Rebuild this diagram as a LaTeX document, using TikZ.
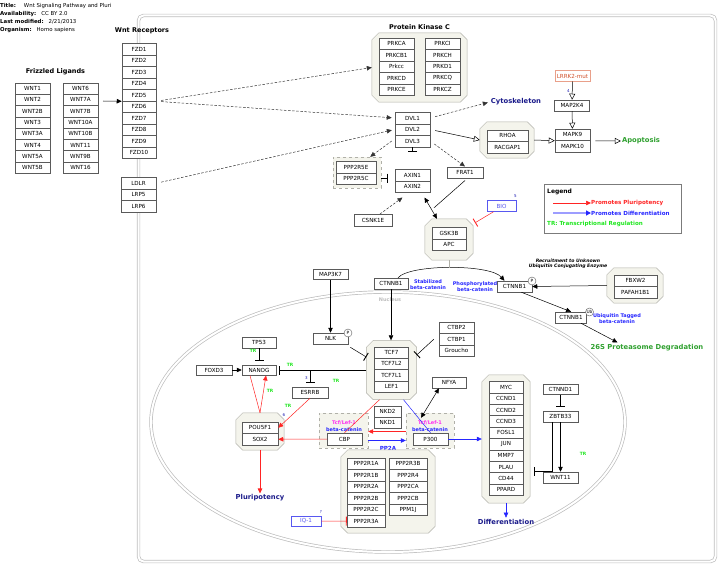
\documentclass[tikz,border=0pt]{standalone}
\usepackage{fontspec}
\setmainfont{DejaVu Sans}
\usepackage{xcolor}
\usepackage{tikz}
\usetikzlibrary{positioning, arrows.meta, calc}
\definecolor{boxline}{HTML}{5A5A5A}
\definecolor{grpfill}{HTML}{F4F4EC}
\definecolor{grpline}{HTML}{B0B0A8}
\definecolor{cellgray}{HTML}{BDBDBD}
\definecolor{navytext}{HTML}{1A1A8A}
\definecolor{okgreen}{HTML}{2FA02F}
\definecolor{trgreen}{HTML}{1EE61E}
\definecolor{plured}{HTML}{FF2424}
\definecolor{difblue}{HTML}{2626FF}
\definecolor{tcfpink}{HTML}{FF2EF0}
\definecolor{mutline}{HTML}{E9A08A}
\definecolor{muttext}{HTML}{D0502A}
\definecolor{drugblue}{HTML}{5858F0}

\tikzset{
  gene/.style={draw=boxline, fill=white, line width=0.5pt, inner sep=0pt,
    minimum width=35pt, minimum height=11.5pt, font=\fontsize{5.6}{6}\selectfont},
  grpline/.style={draw=grpline, fill=grpfill, line width=0.5pt},
  cplx/.style={draw=grpline, dashed, fill=grpfill, line width=0.4pt, inner sep=0pt},
  info/.style={anchor=west, inner sep=0pt, font=\fontsize{5.4}{6}\selectfont},
  head/.style={inner sep=0pt, font=\bfseries\fontsize{6.5}{7}\selectfont},
  outcome/.style={inner sep=1pt, text=navytext, font=\bfseries\fontsize{6.8}{8}\selectfont},
  catlbl/.style={inner sep=0pt, align=center, text=difblue, font=\bfseries\fontsize{5}{5.8}\selectfont},
  legtxt/.style={anchor=west, inner sep=0pt, font=\bfseries\fontsize{5.6}{6.5}\selectfont},
  trlbl/.style={inner sep=0pt, text=trgreen, font=\bfseries\fontsize{4.4}{5}\selectfont},
  refnum/.style={inner sep=0pt, text=difblue!70!black, font=\fontsize{4}{4.5}\selectfont},
  statemark/.style={circle, draw=boxline, fill=white, line width=0.4pt, inner sep=0pt,
    minimum size=8pt, font=\fontsize{4.3}{5}\selectfont},
  act/.style={-{Triangle[length=5pt,width=4.5pt]}, line width=0.5pt},
  bact/.style={{Triangle[length=5pt,width=4.5pt]}-{Triangle[length=5pt,width=4.5pt]}, line width=0.5pt},
  dact/.style={act, draw=black!80, dash pattern=on 2.5pt off 1.6pt},
  conv/.style={-{Triangle[open,length=6pt,width=6pt]}, line width=0.5pt},
  inh/.style={-{Bar[width=9pt,line width=0.9pt]}, line width=0.5pt},
  membrane/.style={draw=cellgray, double=white, double distance=2pt, line width=0.7pt}
}

% octagonal group: name, x, y, width, height
\newcommand{\grpbox}[5]{%
  \node[minimum width=#4pt, minimum height=#5pt, inner sep=0pt] (#1) at (#2,#3) {};
  \draw[grpline] ([xshift=7pt]#1.north west) -- ([xshift=-7pt]#1.north east)
    -- ([yshift=-7pt]#1.north east) -- ([yshift=7pt]#1.south east)
    -- ([xshift=-7pt]#1.south east) -- ([xshift=7pt]#1.south west)
    -- ([yshift=7pt]#1.south west) -- ([yshift=-7pt]#1.north west) -- cycle;}

\begin{document}
\begin{tikzpicture}[x=1pt, y=-1pt]
    \useasboundingbox (0,0) rectangle (727,575);
    \node[info] (ttl) at (0,6) {\textbf{Title:}\hspace{8pt}Wnt Signaling Pathway and Pluri};
    \node[info] (avl) at (0,14) {\textbf{Availability:}\hspace{5pt}CC BY 2.0};
    \node[info] (mdf) at (0,22) {\textbf{Last modified:}\hspace{5pt}2/21/2013};
    \node[info] (org) at (0,30) {\textbf{Organism:}\hspace{5pt}Homo sapiens};

    \draw[membrane, rounded corners=5pt] (138.5,15.5) rectangle (715.5,561.5);
    \draw[membrane] (388,422) ellipse [x radius=237pt, y radius=130pt];
    \node[inner sep=0pt, text=cellgray, font=\bfseries\fontsize{5}{6}\selectfont] (nuclbl) at (390,299.5) {Nucleus};

    \node[head] (fzlbl) at (55.5,72) {Frizzled Ligands};
    \foreach \g [count=\i] in {WNT1,WNT2,WNT2B,WNT3,WNT3A,WNT4,WNT5A,WNT5B}
        \node[gene, minimum height=11.3pt] (wnta\i) at (32.5,{77.2+11.3*\i}) {\g};
    \foreach \g [count=\i] in {WNT6,WNT7A,WNT7B,WNT10A,WNT10B,WNT11,WNT9B,WNT16}
        \node[gene, minimum height=11.3pt] (wntb\i) at (80.5,{77.2+11.3*\i}) {\g};

    \node[head] (rclbl) at (142,31) {Wnt Receptors};
    \foreach \i in {1,...,10}
        \node[gene, minimum width=34pt] (fzd\i) at (139,{37.75+11.5*\i}) {FZD\i};
    \foreach \g/\n [count=\i] in {LDLR/ldlr,LRP5/lrp5,LRP6/lrp6}
        \node[gene] (\n) at (138.5,{171.75+11.5*\i}) {\g};
    \coordinate (ligin) at (103,101);
    \draw[act] (ligin) -- (fzd5.south west);

    \grpbox{pkc}{419.5}{67.5}{95}{69}
    \node[head] (pkclbl) at (419.5,27) {Protein Kinase C};
    \foreach \g [count=\i] in {PRKCA,PRKCB1,Prkcc,PRKCD,PRKCE}
        \node[gene] (pkca\i) at (396.5,{32.25+11.5*\i}) {\g};
    \foreach \g [count=\i] in {PRKCI,PRKCH,PRKD1,PRKCQ,PRKCZ}
        \node[gene] (pkcb\i) at (442.5,{32.25+11.5*\i}) {\g};

    \foreach \i in {1,2,3}
        \node[gene] (dvl\i) at (412.5,{106.5+11.5*\i}) {DVL\i};
    \foreach \i in {1,2}
        \node[gene] (axin\i) at (412.5,{163.5+11.5*\i}) {AXIN\i};

    \draw[dact, shorten <=5pt] (fzd5.south east) -- (pkc.west);
    \draw[dact, shorten <=5pt, shorten >=3pt] (fzd5.south east) -- (dvl1.west);
    \draw[dact, shorten <=5pt, shorten >=3pt] (ldlr.east) -- (dvl2.west);

    \node[outcome] (cyto) at (516,102) {Cytoskeleton};
    \draw[dact, shorten <=5pt, shorten >=2pt] (dvl1.east) -- (cyto.west);

    \grpbox{rho}{507}{140}{54}{36}
    \node[gene, minimum width=41pt] (rhoa) at (507.5,135.75) {RHOA};
    \node[gene, minimum width=41pt] (racgap1) at (507.5,147.25) {RACGAP1};
    \draw[conv, shorten <=5pt] (dvl2.east) -- (rho.west);

    \node[gene] (mapk9) at (572.5,134.75) {MAPK9};
    \node[gene] (mapk10) at (572.5,146.25) {MAPK10};
    \node[gene, minimum height=11pt] (map2k4) at (572,105.5) {MAP2K4};
    \node[gene, draw=mutline, text=muttext, minimum height=10.5pt] (lrrk2) at (572.5,76) {LRRK2-mut};
    \node[refnum] (ref4) at (568.5,91) {4};
    \draw[conv] (rho.east) -- (mapk9.south west);
    \draw[conv] (lrrk2) -- (map2k4);
    \draw[conv] (map2k4) -- (mapk9);
    \node[outcome, text=okgreen] (apop) at (641,141) {Apoptosis};
    \draw[conv, shorten <=5pt] (mapk9.south east) -- (apop.west);

    \node[draw=boxline!80, line width=0.6pt, minimum width=137pt, minimum height=49pt, inner sep=0pt] (legend) at (612.5,208.5) {};
    \node[legtxt, font=\bfseries\fontsize{6}{7}\selectfont] (leghd) at (547,192) {Legend};
    \node[legtxt, text=plured] (legpl) at (591,203) {Promotes Pluripotency};
    \node[legtxt, text=difblue] (legdf) at (591,213) {Promotes Differentiation};
    \node[legtxt, text=trgreen] (legtr) at (547,224) {TR: Transcriptional Regulation};
    \coordinate (legpl0) at (553,203);
    \coordinate (legdf0) at (553,213);
    \draw[act, plured] (legpl0) -- (legpl.west);
    \draw[difblue!45, line width=1.3pt, -{Triangle[length=5pt,width=5pt,color=difblue]}] (legdf0) -- (legdf.west);

    \node[cplx, minimum width=48pt, minimum height=31pt] (pp2r5) at (357,172.5) {};
    \node[gene, minimum width=40pt] (ppp2r5e) at (356,167) {PPP2R5E};
    \node[gene, minimum width=40pt] (ppp2r5c) at (356,178.5) {PPP2R5C};
    \draw[dact] ([xshift=-3pt]dvl3.west) -- ([xshift=-11pt]pp2r5.north east);
    \draw[inh, shorten >=7pt] ([yshift=-5.5pt]pp2r5.east) -- ([yshift=-5.5pt]pp2r5.east -| axin1.west);
    \draw[inh, shorten >=17pt] (dvl3.south) -- (axin1.north);

    \node[gene, minimum width=36pt] (frat1) at (465,172.5) {FRAT1};
    \draw[dact, shorten <=5pt] (dvl3.east) -- (frat1.north);
    \node[gene, minimum width=38pt] (csnk1e) at (373,220) {CSNK1E};
    \draw[dact] ([xshift=7pt]csnk1e.north) -- ([xshift=-10pt, yshift=-5pt]axin2.south);

    \grpbox{gsk}{449}{239.5}{48}{41}
    \node[gene, minimum width=34pt] (gsk3b) at (449,233) {GSK3B};
    \node[gene, minimum width=34pt] (apc) at (449,244.5) {APC};
    \draw[bact] ([xshift=12pt, yshift=-5pt]axin2.south) -- ([xshift=-12pt]gsk.north);
    \draw[line width=0.5pt] ([yshift=-2pt]frat1.south) -- ([xshift=-15pt, yshift=11pt]gsk.north);
    \node[gene, draw=drugblue, text=drugblue, minimum width=29pt, minimum height=11pt] (bio) at (501.5,206) {BIO};
    \node[refnum] (ref5) at (515.5,196.5) {5};
    \draw[inh, plured] ([xshift=-8pt]bio.south) -- ([xshift=26pt, yshift=-4pt]gsk.north);

    \node[gene, minimum width=34pt, minimum height=11pt] (ctnstab) at (391,283.5) {CTNNB1};
    \node[catlbl] (stablbl) at (428,285) {Stabilized\\beta-catenin};
    \node[gene, minimum height=11pt] (ctnphos) at (514.5,286.5) {CTNNB1};
    \node[statemark] (pstate1) at (532,281) {P};
    \node[catlbl] (phoslbl) at (475,286.5) {Phosphorylated\\beta-catenin};
    \draw[act] ([xshift=7pt]ctnstab.north) .. controls (410,264) and (490,264) .. ([xshift=-10pt]ctnphos.north);
    \coordinate (arcmid) at (449,268);
    \draw[grpline, fill=none, line width=0.6pt] (gsk.south) -- (arcmid);

    \node[inner sep=0pt, align=center, font=\bfseries\itshape\fontsize{4.6}{5.4}\selectfont] (recr) at (568,263.5) {Recruitment to Unknown\\Ubiquitin Conjugating Enzyme};
    \grpbox{fbx}{635}{285.5}{56}{35}
    \node[gene, minimum width=43pt] (fbxw2) at (635.5,280.5) {FBXW2};
    \node[gene, minimum width=43pt] (pafah1b1) at (635.5,292) {PAFAH1B1};
    \draw[act] (fbx.west) -- (ctnphos.east);

    \node[gene, minimum width=31pt, minimum height=11pt] (ctnub) at (571,317.5) {CTNNB1};
    \node[statemark] (ubstate) at (589.5,312) {Ub};
    \node[catlbl] (ublbl) at (617,319) {Ubiquitin Tagged\\beta-catenin};
    \draw[act] (ctnphos.-40) -- (ctnub.north);
    \node[outcome, text=okgreen] (degr) at (647,348) {26S Proteasome Degradation};
    \draw[act] ([xshift=10pt]ctnub.south) -- ([xshift=28pt, yshift=1pt]degr.north west);

    \node[gene, minimum height=10.5pt] (map3k7) at (330.5,274) {MAP3K7};
    \node[gene, minimum height=11pt] (nlk) at (330.5,338.5) {NLK};
    \node[statemark] (pstate2) at (348,333) {P};
    \draw[act] (map3k7) -- (nlk);

    \grpbox{tcf}{391.5}{370}{50}{59}
    \foreach \g [count=\i] in {TCF7,TCF7L2,TCF7L1,LEF1}
        \node[gene, minimum width=34pt, minimum height=11.4pt] (tcfg\i) at (391.5,{341.05+11.4*\i}) {\g};
    \draw[act] (ctnstab.south) -- (ctnstab.south |- tcf.north);
    \draw[inh] ([xshift=2pt, yshift=-3pt]nlk.south east) -- ([yshift=13pt]tcf.west);
    \foreach \g [count=\i] in {CTBP2,CTBP1,Groucho}
        \node[gene] (ctbp\i) at (456.5,{316.25+11.5*\i}) {\g};
    \draw[inh] ([xshift=-5pt]ctbp2.west) -- ([yshift=15pt]tcf.east);

    \node[gene, minimum width=34pt, minimum height=11pt] (tp53) at (259,342.5) {TP53};
    \node[gene, minimum width=34pt, minimum height=10.5pt] (nanog) at (259,370) {NANOG};
    \node[gene, minimum width=36pt, minimum height=10.5pt] (foxd3) at (214,370) {FOXD3};
    \node[gene, minimum width=36pt, minimum height=11pt] (esrrb) at (310,392.5) {ESRRB};
    \draw[inh, shorten >=4pt] (tp53) -- (nanog);
    \draw[act] (foxd3) -- (nanog);
    \draw[inh, shorten >=3pt] (tcf.west) -- (nanog.east);
    \coordinate (esbr) at (310,370);
    \draw[inh, shorten >=4pt] (esbr) -- (esrrb.north);
    \node[refnum] (ref3) at (306.5,378) {3};

    \grpbox{pou}{260}{431.5}{48}{37}
    \node[gene, minimum width=36pt] (pou5f1) at (260,427.75) {POU5F1};
    \node[gene, minimum width=36pt] (sox2) at (260,439.25) {SOX2};
    \node[refnum] (ref6) at (284,415) {6};
    \draw[plured, line width=0.5pt] ([xshift=-9pt]nanog.south) -- (pou.north);
    \draw[act, plured] (pou.north) -- ([xshift=7pt]nanog.south);
    \draw[act, plured] (esrrb.south) -- (pou5f1.east);
    \node[outcome] (plur) at (260,498) {Pluripotency};
    \draw[act, plured, line width=0.8pt] (pou.south) -- (plur.north);

    \foreach \x/\y in {253/351, 290/365, 336/381, 270/391, 288/406, 583/454}
        \node[trlbl] at (\x,\y) {TR};

    \node[cplx, minimum width=49pt, minimum height=35pt] (cbpgrp) at (343.5,430.5) {};
    \node[catlbl, text=tcfpink] (tcflbl1) at (344,423) {Tcf/Lef-1};
    \node[catlbl] (bcatlbl1) at (344,429.5) {beta-catenin};
    \node[gene, minimum height=12pt] (cbp) at (344.5,439) {CBP};
    \node[cplx, minimum width=48pt, minimum height=35pt] (p300grp) at (430,430.5) {};
    \node[catlbl, text=tcfpink] (tcflbl2) at (430,423) {Tcf/Lef-1};
    \node[catlbl] (bcatlbl2) at (430,429.5) {beta-catenin};
    \node[gene, minimum height=12pt] (p300) at (430.5,439) {P300};
    \node[gene, minimum width=27pt, minimum height=11pt] (nkd2) at (387.5,411.5) {NKD2};
    \node[gene, minimum width=27pt, minimum height=11pt] (nkd1) at (387.5,422.5) {NKD1};
    \draw[plured, line width=0.5pt] ([xshift=-12pt]tcf.south) -- (cbp.north);
    \draw[difblue, line width=0.5pt] ([xshift=12pt]tcf.south) -- (p300.north);
    \draw[act, plured] ([yshift=-1pt]p300grp.west) -- ([yshift=-1pt]cbpgrp.east);
    \draw[act, difblue] ([yshift=-10pt]cbpgrp.east) -- ([yshift=-10pt]p300grp.west);
    \draw[act, plured] (cbp.west) -- (sox2.east);
    \node[catlbl, font=\bfseries\fontsize{5.6}{6}\selectfont] (pp2albl) at (388,448) {PP2A};

    \node[gene, minimum width=34pt, minimum height=11pt] (nfya) at (449,382.5) {NFYA};
    \draw[bact] ([xshift=-10pt]nfya.south) -- ([xshift=-9pt, yshift=-5pt]p300grp.north);

    \grpbox{pp2a}{388}{491.5}{94}{83}
    \foreach \g [count=\i] in {PPP2R1A,PPP2R1B,PPP2R2A,PPP2R2B,PPP2R2C,PPP2R3A}
        \node[gene, minimum width=38pt] (pp2l\i) at (366,{452.25+11.5*\i}) {\g};
    \foreach \g [count=\i] in {PPP2R3B,PPP2R4,PPP2CA,PPP2CB,PPM1J}
        \node[gene, minimum width=38pt] (pp2r\i) at (408,{452.25+11.5*\i}) {\g};
    \node[gene, draw=drugblue, text=drugblue, minimum width=30pt, minimum height=10.5pt] (iq1) at (306,521) {IQ-1};
    \node[refnum] (refq) at (321,512) {?};
    \draw[inh, plured] (iq1) -- (pp2l6);

    \grpbox{mycgrp}{506}{439}{48}{128}
    \foreach \g [count=\i] in {MYC,CCND1,CCND2,CCND3,FOSL1,JUN,MMP7,PLAU,CD44,PPARD}
        \node[gene, minimum width=34pt, minimum height=11.4pt] (tg\i) at (506,{375.8+11.4*\i}) {\g};
    \draw[act, difblue] (p300.east) -- (mycgrp.west);
    \node[outcome] (diff) at (506,521.5) {Differentiation};
    \draw[act, difblue] (mycgrp.south) -- (diff.north);

    \node[gene, minimum height=10.5pt] (ctnnd1) at (560.5,389) {CTNND1};
    \node[gene, minimum height=11pt] (zbtb33) at (560.5,416.5) {ZBTB33};
    \node[gene, minimum height=11pt] (wnt11) at (560.5,477.5) {WNT11};
    \draw[inh, shorten >=4pt] (ctnnd1) -- (zbtb33);
    \draw[act] (zbtb33) -- (wnt11);
    \draw[inh] ([xshift=-8.5pt]zbtb33.south) |- ([xshift=4pt, yshift=-32pt]mycgrp.east);
\end{tikzpicture}
\end{document}
